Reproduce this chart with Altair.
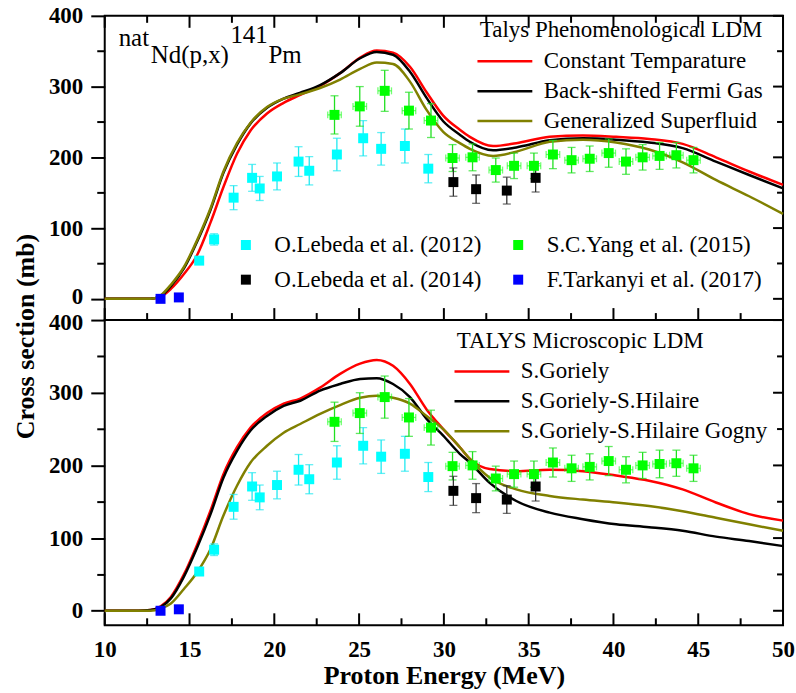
import altair as alt
import pandas as pd

FONT = "Liberation Serif, Times New Roman, Nimbus Roman, DejaVu Serif, serif"
W = 680
H_TOP = 305
H_BOT = 306
X_DOMAIN = [10, 50]
Y_DOM_TOP = [-30, 400]
Y_DOM_BOT = [-20, 400]
X_MAJOR = [10, 15, 20, 25, 30, 35, 40, 45, 50]
X_MINOR = [12.5, 17.5, 22.5, 27.5, 32.5, 37.5, 42.5, 47.5]
Y_TICKS = [0, 50, 100, 150, 200, 250, 300, 350, 400]
Y_MAJOR = [0, 100, 200, 300, 400]
Y_MINOR = [50, 150, 250, 350]

# ---------------- TALYS phenomenological level densities (top panel) ----------------
E_TOP = [10, 12, 12.7, 13.3, 13.9, 14.67, 15.45, 16.24, 17.0, 17.8,
         18.6, 19.57, 20.55, 21.5, 22.7, 23.88, 25.06, 26.04, 27.0, 28.0,
         28.98, 29.96, 30.94, 31.53, 32.9, 34.27, 36.24, 38.2, 40.16, 42.1,
         44.08, 46.04, 48.0, 50]
CT = [0, 0, 0, 3, 14, 35, 62, 108, 158, 205,
      238, 262, 277, 288, 301, 319, 341, 351, 348, 328,
      292, 259, 239, 229, 216, 220, 229, 231, 229, 226,
      219, 200, 180, 161]
BSFG = [0, 0, 0, 4, 18, 43, 81, 126, 178, 218,
        248, 270, 283, 291, 302, 319, 340, 349, 345, 321,
        284, 251, 232, 222, 210, 214, 224, 227, 225, 221,
        213, 194, 175, 156]
GSF = [0, 0, 0, 5, 20, 45, 83, 128, 180, 220,
       249, 271, 283, 289, 298, 310, 325, 334, 332, 307,
       267, 236, 220, 212, 202, 208, 222, 225, 221, 211,
       193, 168, 145, 120]

# ---------------- TALYS microscopic level densities (bottom panel) ----------------
E_BOT = [10, 12, 12.7, 13.3, 13.9, 14.67, 15.45, 16.24, 17.0, 17.8,
         18.6, 19.57, 20.55, 21.53, 22.7, 23.88, 25.06, 26.04, 27.0, 28.0,
         28.98, 29.96, 30.94, 31.53, 32.7, 34.27, 36.24, 38.2, 40.16, 42.1,
         44.08, 46.04, 48.0, 50]
GOR = [0, 0, 1, 6, 19, 50, 91, 138, 188, 225,
       252, 272, 285, 292, 307, 326, 340, 345, 337, 312,
       277, 250, 225, 209, 195, 192, 194, 192, 186, 179,
       167, 149, 133, 124]
GOR_HIL = [0, 0, 1, 5, 17, 47, 87, 133, 183, 220,
           248, 268, 282, 289, 303, 312, 319, 320, 312, 294,
           264, 241, 216, 204, 176, 151, 135, 126, 119, 115,
           110, 102, 96, 89]
GOR_HIL_GOG = [0, 0, 0, 3, 10, 30, 53, 85, 131, 172,
               204, 227, 245, 257, 271, 283, 293, 296, 293, 285,
               268, 250, 225, 209, 183, 167, 158, 153, 149, 144,
               137, 128, 119, 110]

MODELS_TOP = ["Constant Temparature", "Back-shifted Fermi Gas", "Generalized Superfluid"]
MODELS_BOT = ["S.Goriely", "S.Goriely-S.Hilaire", "S.Goriely-S.Hilaire Gogny"]
MODEL_COLORS = ["#FF0000", "#000000", "#808000"]

# ---------------- experimental data ----------------
LEB12_E = [15.57, 16.45, 17.6, 18.69, 19.14, 20.16, 21.43, 22.06, 23.69, 25.24, 26.3, 27.7, 29.08]
LEB12_S = [54, 84, 143, 171, 156, 173, 194, 181, 204, 227, 212, 216, 184]
LEB12_ERR = [5, 8, 17, 19, 17, 19, 21, 20, 23, 25, 23, 24, 20]

YANG_E = [23.55, 25.04, 26.51, 27.94, 29.24, 30.51, 31.69, 33.06, 34.14, 35.31,
          36.43, 37.53, 38.6, 39.72, 40.74, 41.72, 42.72, 43.71, 44.72]
YANG_S = [260, 272, 294, 266, 252, 199, 200, 182, 188, 188,
          204, 196, 198, 206, 194, 200, 202, 203, 196]
YANG_ERR = [27, 28, 29, 26, 24, 19, 19, 17, 18, 18,
            20, 18, 18, 20, 18, 18, 19, 18, 18]
YANG_XERR = [0.4, 0.4, 0.4, 0.4, 0.4, 0.4, 0.4, 0.4, 0.4, 0.4,
             0.4, 0.4, 0.4, 0.4, 0.4, 0.4, 0.4, 0.4, 0.4]

LEB14_E = [30.56, 31.9, 33.71, 35.41]
LEB14_S = [165, 155, 153, 171]
LEB14_ERR = [20, 20, 19, 20]

TARK_E = [13.29, 14.37]
TARK_S = [0, 2]

# legend order (filled column by column: 2012, 2014 | 2015, 2017)
SET_NAMES = ["O.Lebeda et al. (2012)", "O.Lebeda et al. (2014)",
             "S.C.Yang et al. (2015)", "F.Tarkanyi et al. (2017)"]
SET_FILL = ["#00FFFF", "#000000", "#00FF00", "#0000FF"]
BAR_COLORS = ["#20E8F0", "#20E020", "#333333"]

# annotation pieces (text, energy, cross section at baseline)
ANN_TEXT = ["nat", "Nd(p,x)", "141", "Pm"]
ANN_E = [10.82, 12.71, 17.41, 19.65]
ANN_S = [358, 334, 362, 334]

# ---------------- tables ----------------
def curves(E, names, series):
    rows = []
    for name, vals in zip(names, series):
        for e, v in zip(E, vals):
            rows.append({"E": e, "s": v, "model": name})
    return pd.DataFrame(rows)

top_curves = curves(E_TOP, MODELS_TOP, [CT, BSFG, GSF])
bot_curves = curves(E_BOT, MODELS_BOT, [GOR, GOR_HIL, GOR_HIL_GOG])

# drawing order: cyan, green, black, blue
pts_rows = []
for name, Es, Ss in [("O.Lebeda et al. (2012)", LEB12_E, LEB12_S), ("S.C.Yang et al. (2015)", YANG_E, YANG_S),
                     ("O.Lebeda et al. (2014)", LEB14_E, LEB14_S), ("F.Tarkanyi et al. (2017)", TARK_E, TARK_S)]:
    for e, s in zip(Es, Ss):
        pts_rows.append({"set": name, "E": e, "s": s})
pts_df = pd.DataFrame(pts_rows)

bar_tables = []
for (Es, Ss, Errs), col in zip([(LEB12_E, LEB12_S, LEB12_ERR), (YANG_E, YANG_S, YANG_ERR),
                                (LEB14_E, LEB14_S, LEB14_ERR)], BAR_COLORS):
    b = pd.DataFrame({"E": Es, "lo": [s - d for s, d in zip(Ss, Errs)],
                      "hi": [s + d for s, d in zip(Ss, Errs)]})
    c = pd.DataFrame({"E": list(Es) + list(Es),
                      "v": [s - d for s, d in zip(Ss, Errs)] + [s + d for s, d in zip(Ss, Errs)]})
    bar_tables.append((b, c, col))

gx = pd.DataFrame({"s": YANG_S, "xlo": [e - d for e, d in zip(YANG_E, YANG_XERR)],
                   "xhi": [e + d for e, d in zip(YANG_E, YANG_XERR)]})
gxcaps = pd.DataFrame({"s": YANG_S + YANG_S,
                       "v": [e - d for e, d in zip(YANG_E, YANG_XERR)] + [e + d for e, d in zip(YANG_E, YANG_XERR)]})

ann = pd.DataFrame({"t": ANN_TEXT, "E": ANN_E, "s": ANN_S})


def xenc(field, axis):
    return alt.X(f"{field}:Q", scale=alt.Scale(domain=X_DOMAIN, nice=False, zero=False), axis=axis)


def yenc(field, dom, axis):
    return alt.Y(f"{field}:Q", scale=alt.Scale(domain=dom, nice=False, zero=False), axis=axis)


def panel(curve_df, models, legend_title, ydom, h, top, legx, legy, tpad, rpad):
    if top:
        xa = None
        lab_off = {"condition": {"test": "datum.value === 0", "value": -2}, "value": 0}
    else:
        xa = alt.Axis(values=X_MAJOR, ticks=False, domain=False, grid=False,
                      labelPadding=24, labelBaseline="middle", labelFlush=False,
                      title="Proton Energy (MeV)", titleY=50, titleBaseline="middle")
        lab_off = {"condition": {"test": "datum.value === 400", "value": 2}, "value": 0}
    ya = alt.Axis(values=Y_TICKS, labelExpr="datum.value % 100 === 0 ? datum.label : ''",
                  tickSize={"condition": {"test": "datum.value % 100 === 0", "value": 14}, "value": 8},
                  labelOffset=lab_off,
                  labelPadding=8, labelBaseline="middle", domain=False, grid=False,
                  title="Cross section (mb)" if top else None,
                  **({"titleX": -79, "titleY": 321, "titleBaseline": "middle", "titleAlign": "center"} if top else {}))

    layers = []
    lines = alt.Chart(curve_df).mark_line(strokeWidth=2.5, interpolate="monotone").encode(
        x=xenc("E", xa), y=yenc("s", ydom, ya),
        stroke=alt.Stroke("model:N", scale=alt.Scale(domain=models, range=MODEL_COLORS),
                          legend=alt.Legend(title=legend_title, orient="none", legendX=legx, legendY=legy,
                                            symbolType="M-1.35,0H3.65", symbolSize=484, symbolStrokeWidth=2.5,
                                            labelOffset=39, rowPadding=rpad, titlePadding=tpad, padding=0,
                                            labelLimit=500, titleLimit=500)),
        order=alt.Order("E:Q"),
    )
    layers.append(lines)

    for b, c, col in bar_tables:
        layers.append(alt.Chart(b).mark_rule(strokeWidth=1.3, color=col).encode(
            x=xenc("E", xa), y=yenc("lo", ydom, ya), y2="hi:Q"))
        layers.append(alt.Chart(c).mark_tick(orient="horizontal", size=8, thickness=1.3, color=col).encode(
            x=xenc("E", xa), y=yenc("v", ydom, ya)))
    layers.append(alt.Chart(gx).mark_rule(strokeWidth=1.3, opacity=0.55, color="#00FF00").encode(
        x=xenc("xlo", xa), x2="xhi:Q", y=yenc("s", ydom, ya)))
    layers.append(alt.Chart(gxcaps).mark_tick(orient="vertical", size=7, thickness=1.3, opacity=0.55,
                                              color="#00FF00").encode(
        x=xenc("v", xa), y=yenc("s", ydom, ya)))

    data_leg = None
    if top:
        data_leg = alt.Legend(title=None, orient="none", legendX=130, legendY=218, columns=2,
                              columnPadding=25, rowPadding=11, symbolType="square", symbolSize=100,
                              symbolStrokeWidth=0, labelOffset=17, padding=0, labelLimit=500)
    layers.append(alt.Chart(pts_df).mark_square(size=100, opacity=1, filled=True, strokeWidth=0).encode(
        x=xenc("E", xa), y=yenc("s", ydom, ya),
        fill=alt.Fill("set:N", scale=alt.Scale(domain=SET_NAMES, range=SET_FILL), legend=data_leg)))

    if top:
        layers.append(alt.Chart(ann).mark_text(align="left", baseline="alphabetic", font=FONT, fontSize=25,
                                               color="black").encode(
            x=xenc("E", xa), y=yenc("s", ydom, ya), text="t:N"))

    # inward ticks on the frame (bottom, right, and top for the upper panel)
    def xticks(vals, y0, y1):
        return alt.Chart(pd.DataFrame({"v": vals})).mark_rule(color="black", strokeWidth=2).encode(
            x=xenc("v", xa), y=alt.value(y0), y2=alt.value(y1))

    def yticks(vals, length):
        return alt.Chart(pd.DataFrame({"v": vals})).mark_rule(color="black", strokeWidth=2).encode(
            y=yenc("v", ydom, ya), x=alt.value(W), x2=alt.value(W - length))

    layers += [xticks(X_MAJOR, h, h - 12), xticks(X_MINOR, h, h - 7),
               yticks(Y_MAJOR, 10), yticks(Y_MINOR, 6)]
    if top:
        layers += [xticks(X_MAJOR, 0, 12), xticks(X_MINOR, 0, 7)]

    return alt.layer(*layers).properties(width=W, height=h)


top = panel(top_curves, MODELS_TOP, "Talys Phenomenological LDM", Y_DOM_TOP, H_TOP, True, 376, 3, 7, 5)
bottom = panel(bot_curves, MODELS_BOT, "TALYS Microscopic LDM", Y_DOM_BOT, H_BOT, False, 353, 10, 6, 5)

chart = alt.vconcat(top, bottom, spacing=0, bounds="flush").resolve_scale(
    fill="independent", stroke="independent"
).resolve_legend(fill="independent", stroke="independent").properties(
    padding={"left": 12, "top": 3, "right": 0, "bottom": 0}
).configure_view(stroke="black", strokeWidth=2).configure_axis(
    labelFont=FONT, labelFontSize=23, labelFontWeight="bold", labelColor="black",
    titleFont=FONT, titleFontSize=26, titleFontWeight="bold", titleColor="black",
    tickColor="black", tickWidth=2
).configure_legend(
    labelFont=FONT, labelFontSize=23, labelColor="black",
    titleFont=FONT, titleFontSize=23, titleFontWeight="normal", titleColor="black"
)

chart.save("out.html", embed_options={"renderer": "svg", "actions": False})
